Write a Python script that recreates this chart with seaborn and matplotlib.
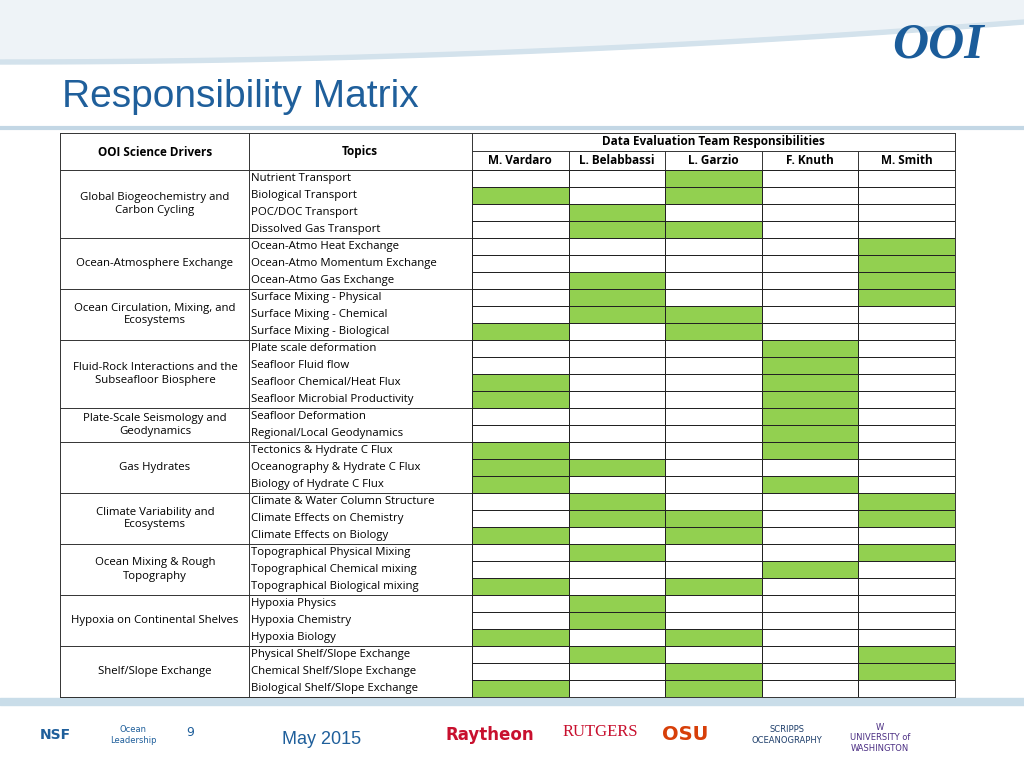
import numpy as np
import pandas as pd
import matplotlib
matplotlib.use("Agg")
import matplotlib.pyplot as plt
import seaborn as sns
from matplotlib.colors import ListedColormap

people = ["M. Vardaro", "L. Belabbassi", "L. Garzio", "F. Knuth", "M. Smith"]
topics = ["Nutrient Transport", "Biological Transport", "POC/DOC Transport", "Dissolved Gas Transport",
          "Ocean-Atmo Heat Exchange", "Ocean-Atmo Momentum Exchange", "Ocean-Atmo Gas Exchange",
          "Surface Mixing - Physical", "Surface Mixing - Chemical", "Surface Mixing - Biological",
          "Plate scale deformation", "Seafloor Fluid flow", "Seafloor Chemical/Heat Flux",
          "Seafloor Microbial Productivity", "Seafloor Deformation", "Regional/Local Geodynamics",
          "Tectonics & Hydrate C Flux", "Oceanography & Hydrate C Flux", "Biology of Hydrate C Flux",
          "Climate & Water Column Structure", "Climate Effects on Chemistry", "Climate Effects on Biology",
          "Topographical Physical Mixing", "Topographical Chemical mixing", "Topographical Biological mixing",
          "Hypoxia Physics", "Hypoxia Chemistry", "Hypoxia Biology",
          "Physical Shelf/Slope Exchange", "Chemical Shelf/Slope Exchange", "Biological Shelf/Slope Exchange"]
drivers = ["Global Biogeochemistry and\nCarbon Cycling", "Ocean-Atmosphere Exchange",
           "Ocean Circulation, Mixing, and\nEcosystems", "Fluid-Rock Interactions and the\nSubseafloor Biosphere",
           "Plate-Scale Seismology and\nGeodynamics", "Gas Hydrates", "Climate Variability and\nEcosystems",
           "Ocean Mixing & Rough\nTopography", "Hypoxia on Continental Shelves", "Shelf/Slope Exchange"]
driver_rows = [4, 3, 3, 4, 2, 3, 3, 3, 3, 3]
# assignments (V, B, G, K, S)
assign = [
 [0,0,1,0,0],[1,0,1,0,0],[0,1,0,0,0],[0,1,1,0,0],
 [0,0,0,0,1],[0,0,0,0,1],[0,1,0,0,1],
 [0,1,0,0,1],[0,1,1,0,0],[1,0,1,0,0],
 [0,0,0,1,0],[0,0,0,1,0],[1,0,0,1,0],[1,0,0,1,0],
 [0,0,0,1,0],[0,0,0,1,0],
 [1,0,0,1,0],[1,1,0,0,0],[1,0,0,1,0],
 [0,1,0,0,1],[0,1,1,0,1],[1,0,1,0,0],
 [0,1,0,0,1],[0,0,0,1,0],[1,0,1,0,0],
 [0,1,0,0,0],[0,1,0,0,0],[1,0,1,0,0],
 [0,1,0,0,1],[0,0,1,0,1],[1,0,1,0,0]]

W, H = 1024, 768
fig = plt.figure(figsize=(W/100, H/100), dpi=100)
bg = fig.add_axes([0, 0, 1, 1])
bg.set_xlim(0, W); bg.set_ylim(H, 0); bg.axis("off")
FONT = "Open Sans"

# top banner
xs = np.linspace(0, W, 200)
bg.fill_between(xs, 0, 60 - 40*(xs/W)**2, color="#eef3f7", zorder=0)
bg.fill_between(xs, 60 - 40*(xs/W)**2, 64 - 40*(xs/W)**2, color="#d3e2ec", zorder=0)
bg.plot([0, W], [128, 128], color="#c3d7e5", lw=3)
bg.text(938, 45, "OOI", fontsize=36, color="#1b5c9a", ha="center", va="center",
        fontweight="bold", family="Liberation Serif", style="italic")
bg.text(62, 97, "Responsibility Matrix", fontsize=28, color="#1f5f9b", va="center",
        family="Liberation Sans")

# table geometry
x0, xe = 472, 955
top, hmid, y0, rh = 133, 151, 170, 17
nrows = len(topics)
y1 = y0 + rh*nrows
cw = (xe - x0) / len(people)
hm = fig.add_axes([x0/W, 1 - y1/H, (xe-x0)/W, (y1-y0)/H])
df = pd.DataFrame(assign, index=topics, columns=people)
sns.heatmap(df, ax=hm, cmap=ListedColormap(["white", "#92d050"]), cbar=False,
            linewidths=0.7, linecolor="#222222", vmin=0, vmax=1)
hm.set_xticks([]); hm.set_yticks([]); hm.set_xlabel(""); hm.set_ylabel("")

lc = "#333333"
bg.plot([60, 955], [top, top], color=lc, lw=0.7)
bg.plot([472, 955], [hmid, hmid], color=lc, lw=0.7)
bg.plot([60, 955], [y0, y0], color=lc, lw=0.7)
bg.plot([60, 955], [y1, y1], color=lc, lw=0.7)
for x in [60, 249, 472, 955]:
    bg.plot([x, x], [top, y1], color=lc, lw=0.7)
for i in range(1, len(people)):
    bg.plot([x0 + cw*i]*2, [hmid, y0], color=lc, lw=0.7)
bg.text(155, 152, "OOI Science Drivers", fontsize=8.5, fontweight="bold", ha="center", va="center", family=FONT)
bg.text(360, 152, "Topics", fontsize=8.5, fontweight="bold", ha="center", va="center", family=FONT)
bg.text(713, 142, "Data Evaluation Team Responsibilities", fontsize=8.5, fontweight="bold", ha="center", va="center", family=FONT)
for i, p in enumerate(people):
    bg.text(x0 + cw*(i+0.5), 161, p, fontsize=8.5, fontweight="bold", ha="center", va="center", family=FONT)
for i, t in enumerate(topics):
    bg.text(251, y0 + rh*i + rh/2, t, fontsize=8.2, ha="left", va="center", family=FONT)
r = 0
for d, n in zip(drivers, driver_rows):
    bg.text(155, y0 + rh*(r + n/2), d, fontsize=8.2, ha="center", va="center", family=FONT, linespacing=1.25)
    r += n
    bg.plot([60, 472], [y0 + rh*r]*2, color=lc, lw=0.7)

# footer
bg.fill_between([0, W], 698, 705, color="#c9dde9")
bg.text(190, 733, "9", fontsize=9, color="#1f5f9b", ha="center", va="center")
bg.text(322, 740, "May 2015", fontsize=13, color="#1f5f9b", ha="center", va="center", family="Liberation Sans")
bg.text(490, 735, "Raytheon", fontsize=12, color="#c8102e", fontweight="bold", ha="center", va="center")
bg.text(600, 732, "RUTGERS", fontsize=12, color="#c8102e", ha="center", va="center", family="Liberation Serif")
bg.text(685, 735, "OSU", fontsize=14, color="#d73f09", fontweight="bold", ha="center", va="center")
bg.text(787, 735, "SCRIPPS\nOCEANOGRAPHY", fontsize=6, color="#1f3f6b", ha="center", va="center")
bg.text(880, 738, "W\nUNIVERSITY of\nWASHINGTON", fontsize=6, color="#4b2e83", ha="center", va="center")
bg.text(55, 735, "NSF", fontsize=10, color="#1f5f9b", fontweight="bold", ha="center", va="center")
bg.text(133, 735, "Ocean\nLeadership", fontsize=6, color="#1f5f9b", ha="center", va="center")

fig.savefig("out.png", dpi=100)
